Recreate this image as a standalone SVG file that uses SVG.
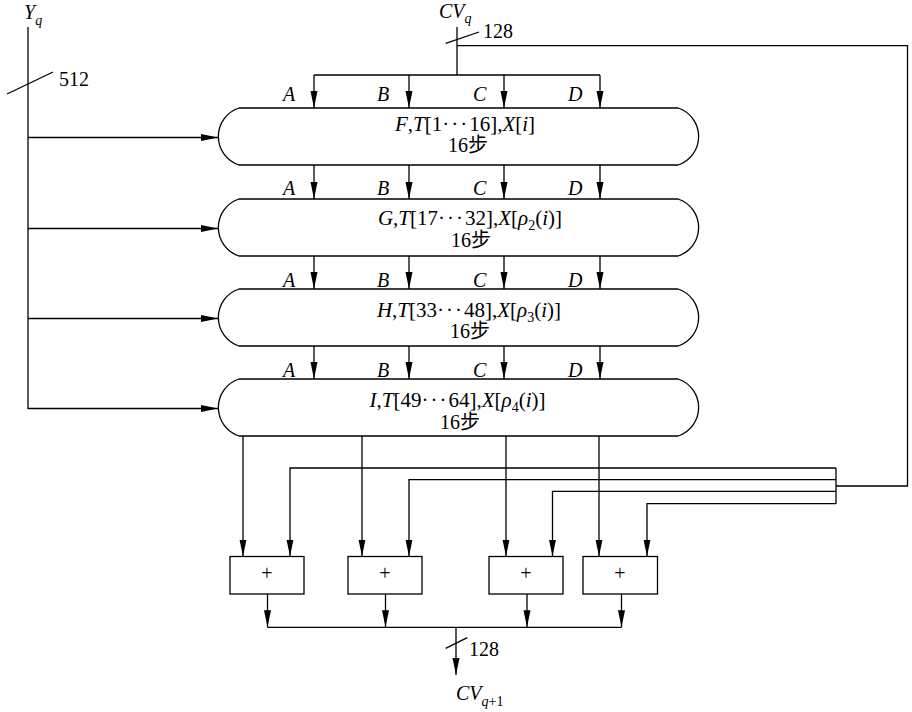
<svg xmlns="http://www.w3.org/2000/svg" width="912" height="712" viewBox="0 0 912 712">
<defs>
<marker id="ah" markerUnits="userSpaceOnUse" markerWidth="18" markerHeight="8" refX="17" refY="4" orient="auto">
<path d="M0,0.5 L17,4 L0,7.5 z" fill="#000"/>
</marker>
<style>
.ln{fill:none;stroke:#000;stroke-width:1.3}
.ar{fill:none;stroke:#000;stroke-width:1.3;marker-end:url(#ah)}
.bx{fill:#fff;stroke:#000;stroke-width:1.3}
text{font-family:"Liberation Serif","Noto Sans CJK SC",serif;font-size:20px;fill:#000}
.it{font-style:italic}
.sb{font-size:14px}
.c{text-anchor:middle}
.t1{font-size:21px}
.dt{letter-spacing:2px}
</style>
</defs>
<rect width="912" height="712" fill="#fff"/>

<g id="labels">
<text x="24" y="19" class="it">Y<tspan class="sb" dy="6">q</tspan></text>
<text x="59" y="86">512</text>
<text x="439" y="18" class="it">CV<tspan class="sb" dy="5">q</tspan></text>
<text x="483" y="38">128</text>
<text x="469" y="656">128</text>
<text x="456" y="700" class="it">CV<tspan class="sb" dy="6">q</tspan><tspan class="sb" font-style="normal">+1</tspan></text>
<g class="it">
<text x="283" y="101">A</text><text x="377" y="101">B</text><text x="473" y="101">C</text><text x="568" y="101">D</text>
<text x="283" y="195">A</text><text x="377" y="195">B</text><text x="473" y="195">C</text><text x="568" y="195">D</text>
<text x="283" y="287">A</text><text x="377" y="287">B</text><text x="473" y="287">C</text><text x="568" y="287">D</text>
<text x="283" y="377">A</text><text x="377" y="377">B</text><text x="473" y="377">C</text><text x="568" y="377">D</text>
</g>
</g>

<g id="connectors">
<path class="ln" d="M28,27 V409"/>
<path class="ln" d="M7,94 L53,72"/>
<path class="ar" d="M28,137.5 H218"/>
<path class="ar" d="M28,228.5 H218"/>
<path class="ar" d="M28,318.5 H218"/>
<path class="ar" d="M28,408.5 H218"/>
<path class="ln" d="M457,27 V75"/>
<path class="ln" d="M445.7,43.3 L479,32"/>
<path class="ln" d="M314,75 H600"/>
<path class="ar" d="M314,75 V108"/><path class="ar" d="M409,75 V108"/><path class="ar" d="M504,75 V108"/><path class="ar" d="M600,75 V108"/>
<path class="ar" d="M314,165 V199"/><path class="ar" d="M409,165 V199"/><path class="ar" d="M504,165 V199"/><path class="ar" d="M600,165 V199"/>
<path class="ar" d="M314,256 V289"/><path class="ar" d="M409,256 V289"/><path class="ar" d="M504,256 V289"/><path class="ar" d="M600,256 V289"/>
<path class="ar" d="M314,346 V379"/><path class="ar" d="M409,346 V379"/><path class="ar" d="M504,346 V379"/><path class="ar" d="M600,346 V379"/>
<path class="ar" d="M243,436 V556.5"/>
<path class="ar" d="M362,436 V556.5"/>
<path class="ar" d="M506,436 V556.5"/>
<path class="ar" d="M599,436 V556.5"/>
<path class="ln" d="M457,45.7 H907.5 V486 H836"/>
<path class="ln" d="M836,468 V503.7"/>
<path class="ar" d="M836,468 H290 V556.5"/>
<path class="ar" d="M836,479.7 H409 V556.5"/>
<path class="ar" d="M836,491.3 H552.5 V556.5"/>
<path class="ar" d="M836,503.7 H647 V556.5"/>
<path class="ar" d="M267.5,594 V627.3"/>
<path class="ar" d="M385.5,594 V627.3"/>
<path class="ar" d="M527,594 V627.3"/>
<path class="ar" d="M621.5,594 V627.3"/>
<path class="ln" d="M267.5,627.3 H621.5"/>
<path class="ar" d="M456,627.3 V675"/>
<path class="ln" d="M445.7,648.3 L467.3,637.7"/>
</g>

<g id="round1">
<path class="bx" d="M239,108 H678 A30,30 0 0 1 678,165 H239 A30,30 0 0 1 239,108 z"/>
<text x="465" y="131" class="c t1"><tspan class="it">F</tspan>,<tspan class="it">T</tspan>[1<tspan class="dt">···</tspan>16],<tspan class="it">X</tspan>[<tspan class="it">i</tspan>]</text>
<text x="468" y="152" class="c">16步</text>
</g>
<g id="round2">
<path class="bx" d="M239,199 H678 A30,30 0 0 1 678,256 H239 A30,30 0 0 1 239,199 z"/>
<text x="470" y="225" class="c t1"><tspan class="it">G</tspan>,<tspan class="it">T</tspan>[17<tspan class="dt">···</tspan>32],<tspan class="it">X</tspan>[<tspan class="it">ρ</tspan><tspan class="sb" dy="5">2</tspan><tspan dy="-5">(</tspan><tspan class="it">i</tspan>)]</text>
<text x="471" y="247" class="c">16步</text>
</g>
<g id="round3">
<path class="bx" d="M239,289 H678 A30,30 0 0 1 678,346 H239 A30,30 0 0 1 239,289 z"/>
<text x="469" y="317" class="c t1"><tspan class="it">H</tspan>,<tspan class="it">T</tspan>[33<tspan class="dt">···</tspan>48],<tspan class="it">X</tspan>[<tspan class="it">ρ</tspan><tspan class="sb" dy="5">3</tspan><tspan dy="-5">(</tspan><tspan class="it">i</tspan>)]</text>
<text x="470" y="338" class="c">16步</text>
</g>
<g id="round4">
<path class="bx" d="M239,379 H678 A30,30 0 0 1 678,436 H239 A30,30 0 0 1 239,379 z"/>
<text x="457.5" y="407" class="c t1"><tspan class="it">I</tspan>,<tspan class="it">T</tspan>[49<tspan class="dt">···</tspan>64],<tspan class="it">X</tspan>[<tspan class="it">ρ</tspan><tspan class="sb" dy="5">4</tspan><tspan dy="-5">(</tspan><tspan class="it">i</tspan>)]</text>
<text x="460" y="429" class="c">16步</text>
</g>

<g id="add1"><rect class="bx" x="230" y="556.5" width="74" height="37.5"/><text x="267" y="580" class="c">+</text></g>
<g id="add2"><rect class="bx" x="348" y="556.5" width="74" height="37.5"/><text x="385" y="580" class="c">+</text></g>
<g id="add3"><rect class="bx" x="489" y="556.5" width="74" height="37.5"/><text x="526" y="580" class="c">+</text></g>
<g id="add4"><rect class="bx" x="583" y="556.5" width="74.5" height="37.5"/><text x="620" y="580" class="c">+</text></g>
</svg>
